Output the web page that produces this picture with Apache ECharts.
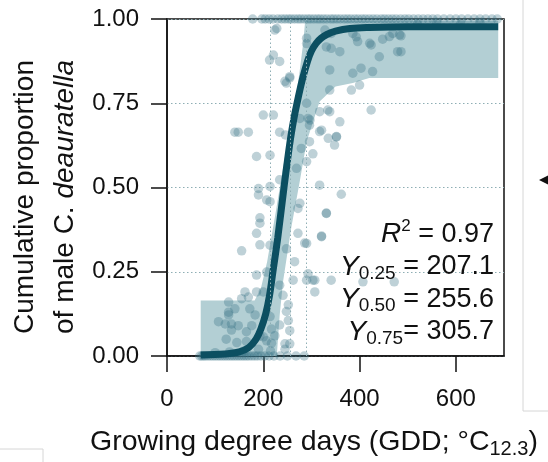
<!DOCTYPE html>
<html><head><meta charset="utf-8">
<script src="https://cdn.jsdelivr.net/npm/echarts@6/dist/echarts.min.js"></script>
<style>html,body{margin:0;padding:0;background:#fff}#c{width:548px;height:462px}</style>
</head><body><div id="c"></div>
<script>
const FONT = '"Liberation Sans", Arial, Helvetica, sans-serif';
const xTicks = [0, 200, 400, 600];
const refLinesX = [215, 255, 290];

const curveX = [70, 120, 150, 170, 185, 195, 205, 213, 220, 230, 243, 255, 263, 270, 282, 292, 300, 310, 320, 332, 350, 380, 420, 500, 600, 688];
const curveY = [0.003, 0.006, 0.012, 0.025, 0.05, 0.08, 0.125, 0.18, 0.25, 0.35, 0.50, 0.63, 0.70, 0.75, 0.825, 0.875, 0.905, 0.928, 0.943, 0.954, 0.964, 0.972, 0.975, 0.977, 0.977, 0.977];

const bandUpX = [70, 182, 195, 208, 225, 240, 255, 267, 276, 283, 287, 688];
const bandUpY = [0.165, 0.165, 0.2, 0.28, 0.42, 0.55, 0.67, 0.76, 0.85, 0.93, 0.995, 0.995];
const bandLoX = [70, 228, 234, 241, 258, 276, 290, 317, 350, 386, 420, 688];
const bandLoY = [0, 0, 0.12, 0.22, 0.38, 0.52, 0.636, 0.755, 0.80, 0.81, 0.825, 0.825];

const topRowX = [178, 197, 204, 212, 220, 230, 238, 245, 252, 258, 265, 272, 278, 285, 292, 298, 305, 312, 318, 325, 332, 340, 346, 353, 360, 368, 375, 382, 390, 397, 405, 412, 420, 428, 436, 445, 452, 460, 468, 476, 485, 494, 502, 512, 522, 532, 542, 552, 562, 575, 588, 600, 612, 625, 638, 650, 662, 675, 686];
const bottomRowX = [68, 72, 76, 80, 85, 90, 95, 100, 105, 110, 115, 120, 125, 130, 135, 140, 145, 150, 155, 160, 165, 170, 176, 182, 188, 195, 203, 212, 222, 235, 250, 268, 285, 100, 130, 160, 190, 215, 245];
const bottomRowY = [0, 0, 0, 0, 0, 0, 0, 0, 0, 0, 0, 0, 0, 0, 0, 0, 0, 0, 0, 0, 0, 0, 0, 0, 0, 0, 0, 0, 0, 0, 0, 0, 0, 0.01, 0.012, 0.015, 0.02, 0.015, 0.02];
const midX = [224, 221, 234, 213, 255, 248, 200, 221, 141, 148, 169, 234, 246, 186, 214, 269, 279, 296, 317, 335, 352, 348, 317, 338, 359, 296, 276, 293, 290, 234, 190, 214, 190, 317, 362, 214, 207, 276, 272, 331, 193, 193, 186, 272, 321, 155, 214, 193, 290, 248, 265, 186, 207, 293, 290, 307, 341, 262, 234, 162, 169, 186, 128, 141, 200, 241, 252, 248, 214, 234, 183, 121, 134, 148, 176, 217, 224, 252, 255, 193, 207, 107, 128, 134, 165, 123, 145, 165, 200, 217, 245, 255, 172, 155, 128,
  290, 328, 341, 331, 341, 359, 338, 386, 403, 427, 338, 383, 400, 386, 396, 424, 441, 469, 479, 424, 334, 321, 245, 255, 290, 297, 352, 303, 448, 486, 486, 228, 290, 393, 421, 462, 483, 331, 321, 286, 303, 407, 472, 307, 520, 560, 610, 650];
const midY = [0.967, 0.893, 0.874, 0.878, 0.829, 0.81, 0.715, 0.715, 0.664, 0.664, 0.664, 0.664, 0.656, 0.592, 0.596, 0.557, 0.616, 0.636, 0.666, 0.646, 0.651, 0.626, 0.725, 0.725, 0.695, 0.685, 0.705, 0.705, 0.577, 0.523, 0.497, 0.503, 0.478, 0.507, 0.48, 0.458, 0.463, 0.453, 0.438, 0.423, 0.41, 0.394, 0.364, 0.364, 0.356, 0.312, 0.329, 0.33, 0.334, 0.318, 0.28, 0.24, 0.249, 0.244, 0.225, 0.225, 0.225, 0.225, 0.21, 0.19, 0.175, 0.19, 0.16, 0.14, 0.19, 0.18, 0.152, 0.132, 0.117, 0.092, 0.122, 0.095, 0.095, 0.09, 0.09, 0.08, 0.06, 0.105, 0.075, 0.06, 0.045, 0.102, 0.122, 0.077, 0.072, 0.05, 0.04, 0.043, 0.057, 0.038, 0.036, 0.036, 0.14, 0.17, 0.13,
  0.927, 0.967, 0.957, 0.917, 0.913, 0.903, 0.849, 0.839, 0.854, 0.844, 0.789, 0.789, 0.804, 0.957, 0.933, 0.923, 0.888, 0.957, 0.903, 0.73, 0.73, 0.67, 0.815, 0.825, 0.75, 0.70, 0.65, 0.60, 0.94, 0.95, 0.903, 0.972, 0.943, 0.947, 0.928, 0.948, 0.953, 0.424, 0.354, 0.335, 0.225, 0.22, 0.22, 0.19, 0.985, 0.99, 0.985, 0.99];

const points = [];
topRowX.forEach(x => points.push([x, 1]));
bottomRowX.forEach((x, i) => points.push([x, bottomRowY[i]]));
midX.forEach((x, i) => points.push([x, midY[i]]));

const chart = echarts.init(document.getElementById('c'), null, {renderer: 'canvas'});
const axisFont = {fontFamily: FONT, fontSize: 24, color: '#111'};
chart.setOption({
  animation: false,
  grid: {left: 167, right: 44, top: 19, bottom: 106, show: true, borderColor: '#111', borderWidth: 1.5, backgroundColor: 'transparent'},
  xAxis: {
    type: 'value', min: 0, max: 700, interval: 200,
    axisLine: {show: true, lineStyle: {color: '#111', width: 1.5}},
    axisTick: {show: true, inside: false, length: 16, lineStyle: {color: '#111', width: 1.5}, customValues: xTicks},
    axisLabel: Object.assign({margin: 31, customValues: xTicks}, axisFont),
    splitLine: {show: false}
  },
  yAxis: {
    type: 'value', min: 0, max: 1, interval: 0.25,
    axisLine: {show: true, lineStyle: {color: '#111', width: 1.5}},
    axisTick: {show: true, length: 16, lineStyle: {color: '#111', width: 1.5}},
    axisLabel: Object.assign({margin: 28, formatter: v => v.toFixed(2)}, axisFont),
    splitLine: {show: true, lineStyle: {type: [1.5, 2.5], color: '#8eaeb4', width: 1}}
  },
  series: [
    {
      type: 'custom', z: 1, silent: true,
      data: [[bandUpX[0], bandUpY[0]]],
      renderItem: (params, api) => {
        const pts = [];
        for (let i = 0; i < bandUpX.length; i++) pts.push(api.coord([bandUpX[i], bandUpY[i]]));
        for (let i = bandLoX.length - 1; i >= 0; i--) pts.push(api.coord([bandLoX[i], bandLoY[i]]));
        return {type: 'polygon', shape: {points: pts}, style: {fill: '#b3cfd4'}};
      }
    },
    {
      type: 'scatter', z: 3, clip: false, silent: true,
      symbolSize: 9.5,
      itemStyle: {color: 'rgba(52,112,132,0.4)'},
      data: points,
      markLine: {
        silent: true, symbol: 'none', label: {show: false},
        lineStyle: {type: [1.5, 2.5], color: '#8eaeb4', width: 1},
        data: refLinesX.map(v => ({xAxis: v}))
      }
    },
    {
      type: 'line', z: 4, silent: true, showSymbol: false, smooth: 0.35,
      lineStyle: {color: '#0c4f61', width: 7},
      data: curveX.map((x, i) => [x, curveY[i]])
    }
  ],
  graphic: [
    {
      type: 'text', x: 45, y: 197, rotation: Math.PI / 2, silent: true,
      style: {
        text: '{a|Cumulative proportion}\n{a|of male C. }{i|deauratella}',
        align: 'center', verticalAlign: 'middle', fill: '#111',
        rich: {
          a: {fontFamily: FONT, fontSize: 28, lineHeight: 40, fill: '#111'},
          i: {fontFamily: FONT, fontSize: 28, fontStyle: 'italic', lineHeight: 40, fill: '#111'}
        }
      }
    },
    {
      type: 'text', x: 90, y: 442, silent: true,
      style: {
        text: '{a|Growing degree days (GDD; °C}{s|12.3}{a|)}',
        align: 'left', verticalAlign: 'middle', fill: '#111',
        rich: {
          a: {fontFamily: FONT, fontSize: 28.5, lineHeight: 34, verticalAlign: 'middle', fill: '#111'},
          s: {fontFamily: FONT, fontSize: 20, lineHeight: 16, verticalAlign: 'bottom', fill: '#111'}
        }
      }
    },
    {
      type: 'text', x: 494, y: 218, silent: true, z: 10,
      style: {
        text: '{it|R}{sup|2}{m| = 0.97}\n{it|Y}{sub|0.25}{m| = 207.1}\n{it|Y}{sub|0.50}{m| = 255.6}\n{it|Y}{sub|0.75}{m|= 305.7}',
        align: 'right', verticalAlign: 'top', fill: '#111',
        rich: {
          m: {fontFamily: FONT, fontSize: 27, lineHeight: 32.5, verticalAlign: 'middle', fill: '#111'},
          it: {fontFamily: FONT, fontSize: 28, fontStyle: 'italic', lineHeight: 32.5, verticalAlign: 'middle', fill: '#111'},
          sub: {fontFamily: FONT, fontSize: 19, lineHeight: 16, verticalAlign: 'bottom', fill: '#111'},
          sup: {fontFamily: FONT, fontSize: 17, lineHeight: 17, verticalAlign: 'top', fill: '#111'}
        }
      }
    },
    {type: 'polyline', silent: true, shape: {points: [[523, 0], [523, 411], [548, 411]]}, style: {stroke: '#d6d6d6', lineWidth: 1, fill: null}},
    {type: 'polyline', silent: true, shape: {points: [[0, 449], [43, 449], [43, 462]]}, style: {stroke: '#d6d6d6', lineWidth: 1, fill: null}},
    {type: 'polygon', silent: true, shape: {points: [[539, 180], [548, 175.5], [548, 184.5]]}, style: {fill: '#111'}}
  ]
});
</script>
</body></html>
